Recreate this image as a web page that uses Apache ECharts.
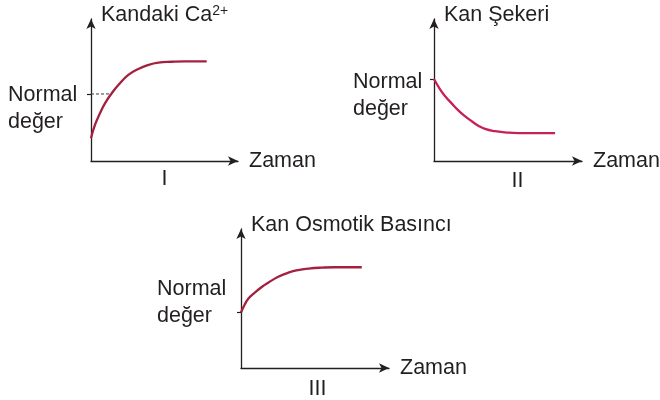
<!DOCTYPE html>
<html>
<head>
<meta charset="utf-8">
<title>Kan değerleri</title>
<script src="https://cdn.jsdelivr.net/npm/echarts@6/dist/echarts.min.js"></script>
<style>
  html, body { margin: 0; padding: 0; background: #fff; }
  #main { width: 660px; height: 400px; }
</style>
</head>
<body>
<div id="main"></div>
<script type="text/javascript">
// grafik verileri (0-100 arası göreli birimler)
var timeI = [0, 2.7, 6.1, 9.5, 14.1, 18.6, 25.4, 32.2, 39.0, 45.8, 54.9, 63.9, 78.7];
var calcium = [16.0, 25.4, 33.6, 40.6, 47.7, 53.5, 60.6, 64.8, 67.6, 69.2, 69.9, 70.2, 70.2];
var normalI = 47.2;

var timeII = [0, 4.1, 7.4, 11.9, 16.4, 20.9, 25.5, 29.9, 34.5, 41.2, 48.0, 57.0, 81.8];
var sugar = [57.7, 50.5, 45.8, 40.6, 35.7, 31.6, 28.0, 24.9, 22.6, 21.0, 20.2, 19.7, 19.7];
var normalII = 57.7;

var timeIII = [0, 2.7, 4.9, 9.5, 14.0, 18.4, 25.2, 32.0, 38.7, 45.5, 54.5, 63.5, 81.6];
var osmotic = [39.9, 46.0, 49.8, 54.4, 58.3, 61.4, 65.6, 68.6, 70.5, 71.5, 72.2, 72.5, 72.5];
var normalIII = 39.9;

var panelNames = ['I', 'II', 'III'];
var panelNamePos = [50, 56.4, 51.7];
var yTitles = ['{t|Kandaki Ca}{s|2+}', '{t|Kan Şekeri}', '{t|Kan Osmotik Basıncı}'];
var xTitle = 'Zaman';

var ink = '#231f20';
var font = 'Liberation Sans';
var fs = 21.5;

function pairs(xs, ys) {
    return xs.map(function (x, i) { return [x, ys[i]]; });
}

function makeX(i, margin) {
    return {
        type: 'value', gridIndex: i, min: 0, max: 100,
        name: xTitle, nameLocation: 'end', nameGap: 11,
        nameTextStyle: { fontFamily: font, fontSize: fs, color: ink, verticalAlign: 'middle' },
        axisLine: { lineStyle: { color: ink, width: 1.3 }, symbol: ['none', 'arrow'], symbolSize: [7, 10] },
        axisTick: { show: false },
        splitLine: { show: false },
        axisLabel: {
            customValues: [panelNamePos[i]],
            formatter: function () { return panelNames[i]; },
            margin: margin, fontFamily: font, fontSize: fs, color: ink
        }
    };
}

function makeY(i, normal, margin, padding) {
    return {
        type: 'value', gridIndex: i, min: 0, max: 100,
        name: yTitles[i], nameLocation: 'end', nameGap: 4,
        nameTextStyle: {
            align: 'left', verticalAlign: 'middle', padding: [0, 0, 0, 10],
            rich: {
                t: { fontFamily: font, fontSize: fs, color: ink },
                s: { fontFamily: font, fontSize: 14, color: ink, verticalAlign: 'top' }
            }
        },
        axisLine: { lineStyle: { color: ink, width: 1.3 }, symbol: ['none', 'arrow'], symbolSize: [7, 10] },
        axisTick: { show: true, customValues: [normal], length: 4, lineStyle: { color: ink, width: 1.2 } },
        splitLine: { show: false },
        axisLabel: {
            customValues: [normal],
            formatter: function () { return '{n|Normal}\n{n|değer}'; },
            margin: margin, padding: padding,
            rich: { n: { width: 70, align: 'left', fontFamily: font, fontSize: fs, lineHeight: 27, color: ink } }
        }
    };
}

function curve(i, xs, ys, color) {
    return {
        type: 'line', xAxisIndex: i, yAxisIndex: i, data: pairs(xs, ys),
        smooth: 0.5, symbol: 'none', z: 3,
        lineStyle: { color: color, width: 2.3 }
    };
}

var myChart = echarts.init(document.getElementById('main'));
var option = {
    animation: false,
    grid: [
        { left: 91, top: 19, width: 147, height: 142, outerBoundsMode: 'none' },
        { left: 434, top: 19, width: 148, height: 142, outerBoundsMode: 'none' },
        { left: 241, top: 229, width: 148, height: 139, outerBoundsMode: 'none' }
    ],
    xAxis: [makeX(0, 7), makeX(1, 9), makeX(2, 10)],
    yAxis: [
        makeY(0, normalI, 13, [30, 0, 0, 0]),
        makeY(1, normalII, 11, [33, 0, 0, 0]),
        makeY(2, normalIII, 14, [0, 0, 19, 0])
    ],
    series: [
        {
            type: 'line', xAxisIndex: 0, yAxisIndex: 0,
            data: [[0, normalI], [timeI[4], normalI]],
            symbol: 'none', silent: true, z: 1,
            lineStyle: { color: '#3a3a3a', width: 1, type: [3, 2] }
        },
        curve(0, timeI, calcium, '#a3203f'),
        curve(1, timeII, sugar, '#c62058'),
        curve(2, timeIII, osmotic, '#a3203f')
    ]
};
myChart.setOption(option);
</script>
</body>
</html>
